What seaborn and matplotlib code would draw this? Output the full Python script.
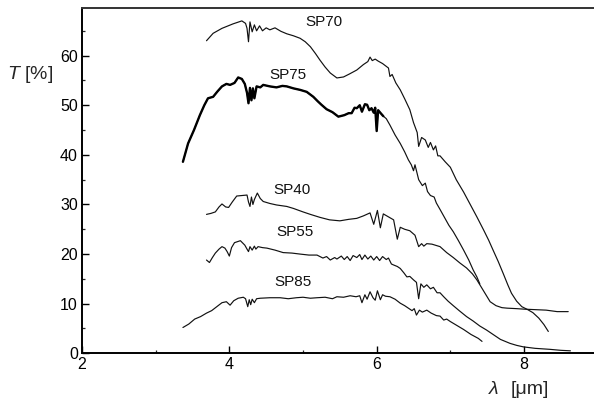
import numpy as np
import pandas as pd
import matplotlib
matplotlib.use("Agg")
import matplotlib.pyplot as plt
import seaborn as sns
from matplotlib.ticker import MultipleLocator

# ---------------- data ----------------
sp70_x = [3.69, 3.78, 3.90, 4.05, 4.17, 4.22, 4.24, 4.26, 4.28, 4.31, 4.34, 4.37, 4.41, 4.45,
          4.50, 4.55, 4.62, 4.70, 4.78, 4.87, 4.96, 5.03, 5.10, 5.17, 5.23, 5.30, 5.37, 5.46,
          5.55, 5.63, 5.73, 5.82, 5.88, 5.91, 5.94, 5.98, 6.02, 6.08, 6.16, 6.18, 6.21, 6.26,
          6.32, 6.38, 6.45, 6.50, 6.55, 6.57, 6.61, 6.66, 6.70, 6.73, 6.77, 6.80, 6.83, 6.86,
          6.93, 7.00, 7.08, 7.18, 7.27, 7.36, 7.45, 7.52, 7.58, 7.65, 7.72, 7.78, 7.83, 7.90,
          7.97, 8.05, 8.12, 8.20, 8.27, 8.33]
sp70_y = [63.0, 64.5, 65.5, 66.4, 67.0, 66.5, 65.5, 62.8, 66.8, 64.8, 66.2, 65.0, 66.0, 65.0,
          65.6, 65.2, 65.6, 64.9, 64.4, 64.0, 63.5, 62.8, 61.8, 60.4, 59.1, 57.7, 56.5, 55.5,
          55.7, 56.3, 57.1, 58.2, 58.8, 59.7, 59.0, 59.3, 58.9, 58.4, 57.5, 55.8, 56.2, 54.5,
          53.1, 51.3, 49.1, 46.5, 44.5, 41.7, 43.5, 43.0, 41.5, 42.5, 41.0, 41.8, 39.8, 39.8,
          38.6, 37.5, 35.0, 32.5, 30.0, 27.5, 24.9, 22.8, 20.8, 18.5, 16.0, 13.8, 12.1, 10.5,
          9.4, 8.8, 8.2, 7.1, 5.8, 4.4]

sp75_x = [3.37, 3.44, 3.52, 3.60, 3.66, 3.71, 3.78, 3.84, 3.90, 3.96, 4.01, 4.07, 4.12, 4.17,
          4.21, 4.24, 4.26, 4.28, 4.30, 4.32, 4.34, 4.37, 4.42, 4.46, 4.55, 4.64, 4.72, 4.78,
          4.87, 4.96, 5.05, 5.14, 5.20, 5.25, 5.32, 5.40, 5.48, 5.56, 5.62, 5.66, 5.70, 5.73,
          5.77, 5.80, 5.84, 5.87, 5.90, 5.93, 5.96, 5.98, 6.00, 6.02, 6.06, 6.09, 6.13, 6.18,
          6.25, 6.32, 6.38, 6.43, 6.47, 6.50, 6.52, 6.57, 6.62, 6.66, 6.69, 6.73, 6.78, 6.81,
          6.86, 6.92, 6.98, 7.04, 7.11, 7.18, 7.25, 7.31, 7.36, 7.40]
sp75_y = [38.6, 42.3, 45.0, 48.0, 50.0, 51.4, 51.7, 52.8, 53.8, 54.3, 54.1, 54.5, 55.6, 55.3,
          54.3, 52.5, 50.4, 53.5, 51.0, 53.4, 51.4, 53.8, 53.6, 54.1, 53.8, 53.6, 53.9, 53.8,
          53.4, 53.1, 52.7, 51.7, 50.8, 50.1, 49.2, 48.6, 47.7, 48.0, 48.4, 48.4, 49.5, 49.4,
          50.0, 48.7, 50.2, 50.1, 49.0, 49.4, 48.5, 49.5, 44.8, 49.0, 48.3, 47.8, 47.3, 46.0,
          44.0, 42.3, 40.6, 39.0, 38.0, 36.8, 38.0, 35.0, 33.8, 34.3, 32.6, 31.8, 31.5, 30.3,
          29.0, 27.4, 25.8, 24.5, 22.7, 20.8, 18.8, 16.8, 15.4, 14.0]

sp40_x = [3.69, 3.75, 3.81, 3.86, 3.90, 3.95, 3.99, 4.04, 4.10, 4.17, 4.24, 4.26, 4.28, 4.30,
          4.32, 4.34, 4.38, 4.42, 4.46, 4.55, 4.64, 4.78, 4.87, 5.00, 5.10, 5.23, 5.36, 5.50,
          5.62, 5.73, 5.82, 5.91, 5.96, 6.01, 6.05, 6.09, 6.16, 6.23, 6.28, 6.32, 6.38, 6.45,
          6.52, 6.57, 6.61, 6.64, 6.68, 6.75, 6.86, 6.95, 7.04, 7.13, 7.22, 7.30, 7.36, 7.45,
          7.54, 7.62, 7.70, 7.77, 7.90, 8.00, 8.15, 8.30, 8.45, 8.60]
sp40_y = [28.0, 28.2, 28.5, 29.5, 30.1, 29.5, 29.4, 30.5, 31.7, 31.8, 31.9, 30.5, 29.6, 31.5,
          30.0, 31.0, 32.3, 31.2, 30.6, 30.2, 29.9, 29.6, 29.2, 28.5, 28.0, 27.4, 26.9, 26.7,
          27.0, 27.2, 27.7, 28.3, 26.0, 28.8, 25.3, 28.1, 27.5, 26.9, 23.0, 25.4, 25.0, 24.7,
          23.8, 21.5, 22.1, 21.6, 22.1, 22.0, 21.5, 20.3, 19.3, 18.2, 17.2, 16.0, 14.8, 12.6,
          10.4, 9.6, 9.2, 9.1, 9.0, 8.9, 8.8, 8.7, 8.4, 8.4]

sp55_x = [3.69, 3.73, 3.77, 3.81, 3.86, 3.90, 3.94, 3.97, 4.00, 4.03, 4.07, 4.15, 4.21, 4.24,
          4.26, 4.28, 4.31, 4.34, 4.36, 4.39, 4.45, 4.51, 4.62, 4.73, 4.85, 4.96, 5.08, 5.19,
          5.27, 5.32, 5.37, 5.43, 5.46, 5.52, 5.56, 5.60, 5.64, 5.68, 5.73, 5.77, 5.80, 5.84,
          5.88, 5.92, 5.96, 6.00, 6.04, 6.08, 6.13, 6.16, 6.20, 6.23, 6.28, 6.32, 6.37, 6.41,
          6.45, 6.50, 6.54, 6.57, 6.60, 6.64, 6.68, 6.73, 6.77, 6.82, 6.86, 6.91, 6.97, 7.04,
          7.12, 7.22, 7.31, 7.40, 7.49, 7.58, 7.68, 7.81, 7.90, 7.99, 8.15, 8.35, 8.50, 8.63]
sp55_y = [18.8, 18.3, 19.3, 20.2, 21.0, 21.5, 21.2, 20.5, 19.6, 21.3, 22.3, 22.7, 21.8, 21.0,
          20.5, 21.5, 20.8, 21.6, 21.0, 21.5, 21.3, 21.2, 20.8, 20.3, 20.2, 20.0, 19.8, 19.8,
          19.2, 19.5, 18.8, 19.3, 19.0, 19.6, 18.9, 19.5, 18.7, 19.7, 19.3, 19.9, 18.9, 19.8,
          19.0, 19.6, 18.8, 19.5, 18.7, 19.5, 18.9, 19.2, 18.0, 17.8, 17.5, 17.1, 16.2, 15.4,
          15.5, 14.8, 14.3, 11.0, 14.0, 13.3, 13.8, 13.0, 13.3, 12.2, 12.2, 11.4, 10.5, 9.6,
          8.6, 7.4, 6.5, 5.5, 4.7, 3.8, 2.8, 2.0, 1.6, 1.3, 1.0, 0.8, 0.6, 0.5]

sp85_x = [3.37, 3.45, 3.53, 3.61, 3.69, 3.76, 3.83, 3.90, 3.96, 4.01, 4.06, 4.12, 4.19, 4.22,
          4.25, 4.27, 4.29, 4.31, 4.34, 4.37, 4.42, 4.55, 4.69, 4.80, 4.91, 5.00, 5.10, 5.19,
          5.30, 5.40, 5.46, 5.55, 5.64, 5.72, 5.77, 5.80, 5.84, 5.87, 5.91, 5.95, 5.98, 6.01,
          6.05, 6.08, 6.12, 6.18, 6.25, 6.32, 6.38, 6.43, 6.48, 6.51, 6.54, 6.58, 6.62, 6.68,
          6.74, 6.81, 6.86, 6.91, 6.95, 7.00, 7.09, 7.18, 7.28, 7.38, 7.43]
sp85_y = [5.2, 5.9, 6.9, 7.4, 8.1, 8.6, 9.4, 10.2, 10.4, 9.7, 10.6, 11.1, 11.3, 11.0,
          9.4, 10.8, 9.8, 10.9, 10.2, 11.0, 11.1, 11.2, 11.2, 11.0, 11.2, 11.3, 11.1, 11.2,
          11.3, 11.0, 11.4, 11.3, 11.6, 11.4, 11.6, 10.2, 11.8, 10.9, 12.4, 11.2, 10.7, 12.6,
          10.8, 11.8, 11.5, 11.4, 10.9, 10.1, 9.6, 9.1, 8.6, 9.0, 7.7, 8.7, 8.3, 8.7,
          8.1, 7.6, 7.5, 6.7, 6.9, 6.4, 5.6, 4.8, 3.8, 3.0, 2.4]

series_names = ["SP70", "SP75", "SP40", "SP55", "SP85"]
label_x = [5.28, 4.80, 4.85, 4.89, 4.87]
label_y = [66.7, 56.0, 32.9, 24.4, 14.3]

x_ticks = [2, 4, 6, 8]
y_ticks = [0, 10, 20, 30, 40, 50, 60]

# ---------------- style ----------------
sns.set_style("ticks")
plt.rcParams["font.family"] = ["Liberation Sans", "DejaVu Sans"]
plt.rcParams["mathtext.fontset"] = "custom"
plt.rcParams["mathtext.rm"] = "Liberation Sans"
plt.rcParams["mathtext.it"] = "Liberation Sans:italic"

fig = plt.figure(figsize=(5.94, 4.05), dpi=100)
ax = fig.add_axes([82 / 594, (405 - 353.3) / 405, 1 - 82 / 594, (353.3 - 8) / 405])

data = {
    "SP70": (sp70_x, sp70_y),
    "SP75": (sp75_x, sp75_y),
    "SP40": (sp40_x, sp40_y),
    "SP55": (sp55_x, sp55_y),
    "SP85": (sp85_x, sp85_y),
}

for name in series_names:
    xs, ys = data[name]
    df = pd.DataFrame({"x": xs, "y": ys})
    sns.lineplot(data=df, x="x", y="y", ax=ax, color="#111111", lw=0.85,
                 sort=False, estimator=None)
    if name == "SP75":
        thick = df[df["x"] <= 6.12]
        sns.lineplot(data=thick, x="x", y="y", ax=ax, color="black", lw=1.7,
                     sort=False, estimator=None)

for name, lx, ly in zip(series_names, label_x, label_y):
    ax.text(lx, ly, name, ha="center", va="center", fontsize=11, color="#111111")

ax.set_xlim(2, 8.95)
ax.set_ylim(0, 69.6)
ax.set_xticks(x_ticks)
ax.set_yticks(y_ticks)
ax.xaxis.set_minor_locator(MultipleLocator(1))
ax.yaxis.set_minor_locator(MultipleLocator(5))
ax.tick_params(which="major", direction="in", length=4.7, width=1.0, labelsize=11.5,
               colors="black", pad=2.5)
ax.tick_params(which="minor", direction="in", length=2.2, width=0.9)
ax.tick_params(axis="y", which="major", pad=3)
ax.set_xlabel("")
ax.set_ylabel("")

for s in ["left", "bottom"]:
    ax.spines[s].set_linewidth(1.4)
    ax.spines[s].set_color("black")
ax.spines["top"].set_visible(True)
ax.spines["top"].set_linewidth(1.4)
ax.spines["top"].set_color("#333333")
ax.spines["right"].set_visible(False)

# axis titles
fig.text(7 / 594, 1 - 74.5 / 405, r"$T$ [%]", ha="left", va="center", fontsize=14)
fig.text(494 / 594, 1 - 389 / 405, "λ", ha="center", va="center", fontsize=14, style="italic")
fig.text(530 / 594, 1 - 389 / 405, "[μm]", ha="center", va="center", fontsize=14)

fig.savefig("out.png", dpi=100)
